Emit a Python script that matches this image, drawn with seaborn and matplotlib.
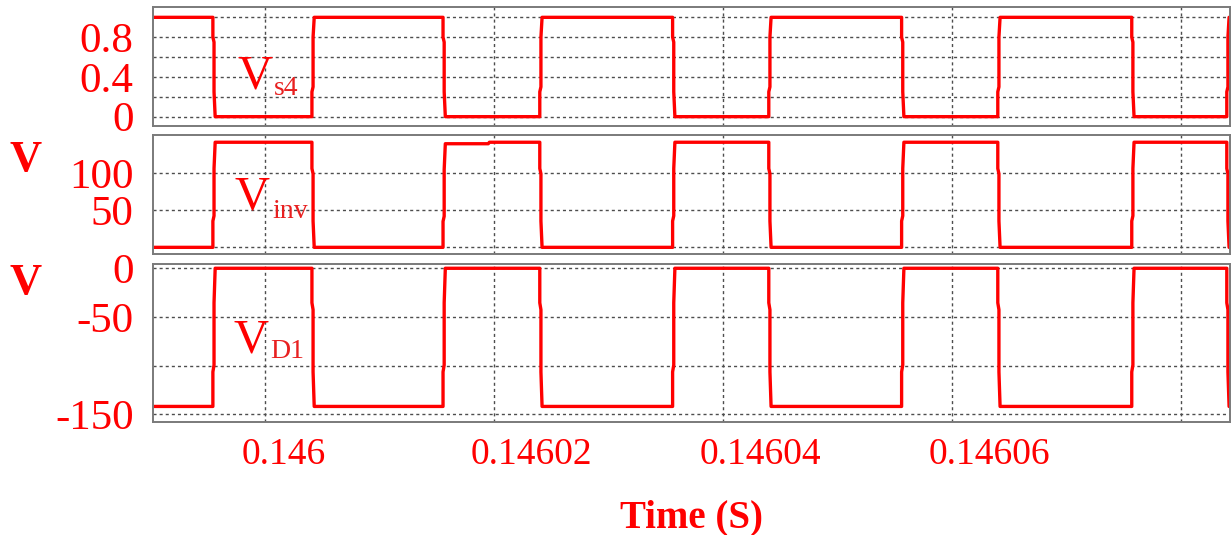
import numpy as np
import pandas as pd
import matplotlib
matplotlib.use("Agg")
import matplotlib.pyplot as plt
import matplotlib.transforms as mtransforms
import seaborn as sns

# ---------------- data ----------------
# time offsets in microseconds relative to t = 0.146 s
t_start_us = -10.5
t_end_us = 86.0
# V_inv rising edges (V_s4 falling edges) and V_inv falling edges (V_s4 rising edges)
rise_us = [-4.55, 15.55, 35.6, 55.6, 75.7]
fall_us = [4.1, 24.0, 44.0, 64.0, 84.0]
# V_s4 gate signal levels
vs4_high = 1.0
vs4_low = 0.0
# V_inv pulse levels
vinv_high = [142, 140, 142, 142, 142]
vinv_high_late = [142, 142, 142, 142, 142]
vinv_step_us = [None, 19.5, None, None, None]
vinv_low = 0.0
# V_D1 levels
vd1_high = 0.0
vd1_low = -142.0

x_ticks = [0.146, 0.14602, 0.14604, 0.14606, 0.14608]
x_ticklabels = ["0.146", "0.14602", "0.14604", "0.14606", ""]
xlim_us = (-9.78, 84.28)

top_ticks = [0, 0.2, 0.4, 0.6, 0.8, 1.0]
top_labels = ["0", "", "0.4", "", "0.8", ""]
mid_ticks = [0, 50, 100]
mid_labels = ["", "50", "100"]
bot_ticks = [-150, -100, -50, 0]
bot_labels = ["-150", "", "-50", "0"]


def pulse_path(rises, falls, low, highs, highs_late=None, steps=None):
    """Polyline for a pulse train with slightly stepped edges."""
    t = [t_start_us]
    v = [low]
    for i, (r, f) in enumerate(zip(rises, falls)):
        h = highs[i]
        h2 = highs_late[i] if highs_late is not None else h
        d = h - low
        t += [r, r, r + 0.1, r + 0.1, r + 0.2]
        v += [low, low + 0.25 * d, low + 0.3 * d, low + 0.75 * d, h]
        if steps is not None and steps[i] is not None:
            t += [steps[i], steps[i] + 0.1]
            v += [h, h2]
        d2 = h2 - low
        t += [f, f, f + 0.1, f + 0.1, f + 0.2]
        v += [h2, low + 0.75 * d2, low + 0.7 * d2, low + 0.25 * d2, low]
    t.append(t_end_us)
    v.append(low)
    return np.array(t), np.array(v)


# V_s4 is the complement of V_inv: high when V_inv low
def inverted_path(rises, falls, high, low):
    t = [t_start_us]
    v = [high]
    for r, f in zip(rises, falls):
        d = high - low
        t += [r, r, r + 0.1, r + 0.1, r + 0.2]
        v += [high, low + 0.8 * d, low + 0.75 * d, low + 0.25 * d, low]
        t += [f, f, f + 0.1, f + 0.1, f + 0.2]
        v += [low, low + 0.25 * d, low + 0.3 * d, low + 0.8 * d, high]
    t.append(t_end_us)
    v.append(high)
    return np.array(t), np.array(v)


t_s4, v_s4 = inverted_path(rise_us, fall_us, vs4_high, vs4_low)
t_inv, v_inv = pulse_path(rise_us, fall_us, vinv_low, vinv_high, vinv_high_late, vinv_step_us)
t_d1, v_d1 = pulse_path(rise_us, fall_us, vd1_low, [vd1_high] * 5)

to_s = lambda us: 0.146 + np.asarray(us) * 1e-6
df_s4 = pd.DataFrame({"t": to_s(t_s4), "v": v_s4})
df_inv = pd.DataFrame({"t": to_s(t_inv), "v": v_inv})
df_d1 = pd.DataFrame({"t": to_s(t_d1), "v": v_d1})

# ---------------- style ----------------
sns.set_style("white")
plt.rcParams["font.family"] = ["Liberation Serif", "DejaVu Serif"]

RED = "#ff0000"
W, H = 1231, 535
fig = plt.figure(figsize=(W / 100, H / 100), dpi=100)


def px_axes(x0, y0, x1, y1):
    return fig.add_axes([x0 / W, (H - y1) / H, (x1 - x0) / W, (y1 - y0) / H])


ax1 = px_axes(153, 7, 1230, 126)
ax2 = px_axes(153, 135, 1230, 254)
ax3 = px_axes(153, 264, 1230, 422)

panels = [
    (ax1, df_s4, (-0.094, 1.104), top_ticks, top_labels),
    (ax2, df_inv, (-9.0, 151.8), mid_ticks, mid_labels),
    (ax3, df_d1, (-158.0, 4.4), bot_ticks, bot_labels),
]

for ax, df, ylim, yt, yl in panels:
    sns.lineplot(data=df, x="t", y="v", ax=ax, color=RED, linewidth=2.4,
                 estimator=None, sort=False)
    ax.set_xlim(to_s(xlim_us[0]), to_s(xlim_us[1]))
    ax.set_ylim(*ylim)
    ax.set_yticks(yt)
    ax.set_yticklabels(yl)
    ax.set_xticks(x_ticks)
    ax.set_xlabel("")
    ax.set_ylabel("")
    ax.grid(True, color="#4d4d4d", linestyle=(0, (2.2, 2.2)), linewidth=1.0)
    ax.set_axisbelow(True)
    for s in ax.spines.values():
        s.set_color("#7a7a7a")
        s.set_linewidth(1.4)
    ax.tick_params(axis="y", length=0, pad=14, labelsize=31, labelcolor=RED)
    ax.tick_params(axis="x", direction="in", length=4, color="#7a7a7a")
    if ax is not ax3:
        ax.tick_params(axis="x", labelbottom=False)

ax3.set_xticklabels(x_ticklabels)
ax3.tick_params(axis="x", labelsize=27, labelcolor=RED, pad=11)
offset = mtransforms.ScaledTranslation(-0.23, 0, fig.dpi_scale_trans)
for lab in ax3.get_xticklabels():
    lab.set_horizontalalignment("left")
    lab.set_transform(lab.get_transform() + offset)

# in-panel signal names
names = [
    (ax1, "V", "s4", (0.078, 0.319), (0.1125, 0.26)),
    (ax2, "V", "inv", (0.076, 0.37), (0.1105, 0.30)),
    (ax3, "V", "D1", (0.0743, 0.443), (0.1085, 0.405)),
]
for ax, main, sub, p_main, p_sub in names:
    ax.text(*p_main, main, transform=ax.transAxes, color=RED, fontsize=35,
            ha="left", va="baseline")
    ax.text(*p_sub, sub, transform=ax.transAxes, color="#e82020", fontsize=20,
            ha="left", va="baseline")

# unit labels and x-axis title
fig.text(26 / W, (H - 160) / H, "V", color=RED, fontsize=32, fontweight="bold",
         ha="center", va="center")
fig.text(26 / W, (H - 283) / H, "V", color=RED, fontsize=32, fontweight="bold",
         ha="center", va="center")
fig.text(691 / W, (H - 527) / H, "Time (S)", color=RED, fontsize=28,
         fontweight="bold", ha="center", va="baseline")

fig.savefig("out.png", dpi=100)
